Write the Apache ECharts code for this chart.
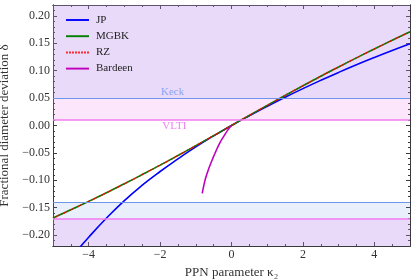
<!DOCTYPE html>
<html>
<head>
<meta charset="utf-8">
<script src="https://cdn.jsdelivr.net/npm/echarts@6/dist/echarts.min.js"></script>
<style>html,body{margin:0;padding:0;background:#fff;}#c{width:415px;height:280px;}</style>
</head>
<body>
<div id="c"></div>
<script>
// kappa_2 sample points
const kappa = [-5, -4.5, -4, -3.5, -3, -2.5, -2, -1.5, -1, -0.5, 0, 0.5, 1, 1.5, 2, 2.5, 3, 3.5, 4, 4.5, 5];
const mgbk = [-0.169, -0.1538, -0.1385, -0.1227, -0.1064, -0.0896, -0.0724, -0.0548, -0.0368, -0.0185, 0.0, 0.0185, 0.0368, 0.0548, 0.0725, 0.0899, 0.1069, 0.1235, 0.1397, 0.1555, 0.171];
const rz = [-0.169, -0.1538, -0.1385, -0.1227, -0.1064, -0.0896, -0.0724, -0.0548, -0.0368, -0.0185, 0.0, 0.0185, 0.0368, 0.0548, 0.0725, 0.0899, 0.1069, 0.1235, 0.1397, 0.1555, 0.171];
const jpKappa = [-4.4, -4, -3.5, -3, -2.5, -2, -1.5, -1, -0.5, 0, 0.5, 1, 1.5, 2, 2.5, 3, 3.5, 4, 4.5, 5];
const jp = [-0.234, -0.204, -0.169, -0.137, -0.109, -0.084, -0.061, -0.039, -0.019, 0.0, 0.0178, 0.035, 0.0515, 0.0673, 0.0824, 0.0969, 0.1108, 0.1241, 0.1369, 0.1492];
const bardeenKappa = [-0.82, -0.77, -0.72, -0.66, -0.61, -0.53, -0.45, -0.33, -0.2, -0.1, 0];
const bardeen = [-0.124, -0.108, -0.095, -0.083, -0.074, -0.061, -0.049, -0.032, -0.018, -0.008, 0.0];
const keck = [-0.14, 0.05];
const vlti = [-0.17, 0.01];
const xRange = [-5, 5];
const yRange = [-0.22, 0.22];

const serif = '"Liberation Serif", "DejaVu Serif", serif';
const frame = '#3a3a3a';
const pair = (xs, ys) => xs.map((x, i) => [x, ys[i]]);
const fmtY = v => (v < 0 ? '\u2212' : '') + Math.abs(v).toFixed(2);
const fmtX = v => (v < 0 ? '\u2212' : '') + Math.abs(v);

function xAx(pos, major, labels) {
  return {
    type: 'value', position: pos, min: xRange[0], max: xRange[1],
    interval: major ? undefined : 0.5, splitNumber: major ? 5 : undefined,
    axisLine: { show: true, onZero: false, lineStyle: { color: frame, width: 1 } },
    axisTick: { show: true, inside: true, length: major ? 4 : 2, lineStyle: { color: frame, width: 1 } },
    axisLabel: { show: labels, showMinLabel: false, showMaxLabel: false, formatter: fmtX, color: '#333', fontFamily: serif, fontSize: 12, margin: 3 },
    splitLine: { show: false },
    name: labels ? 'PPN parameter \u03ba\u2082' : '', nameLocation: 'middle', nameGap: 14,
    nameTextStyle: { color: '#333', fontFamily: serif, fontSize: 13 }
  };
}
function yAx(pos, major, labels) {
  return {
    type: 'value', position: pos, min: yRange[0], max: yRange[1],
    interval: major ? undefined : 0.01, splitNumber: major ? 9 : undefined,
    axisLine: { show: true, onZero: false, lineStyle: { color: frame, width: 1 } },
    axisTick: { show: true, inside: true, length: major ? 4 : 2, lineStyle: { color: frame, width: 1 } },
    axisLabel: { show: labels, showMinLabel: false, showMaxLabel: false, formatter: fmtY, color: '#333', fontFamily: serif, fontSize: 12, margin: 3 },
    splitLine: { show: false },
    name: labels ? 'Fractional diameter deviation \u03b4' : '', nameLocation: 'middle', nameGap: 37,
    nameTextStyle: { color: '#333', fontFamily: serif, fontSize: 13 }
  };
}

const solidIcon = 'path://M0,0h24v2h-24z';
let dots = '';
for (let i = 0; i < 8; i++) dots += 'M' + (i * 3) + ',0h1.6v2h-1.6z';
const dotIcon = 'path://' + dots;

const chart = echarts.init(document.getElementById('c'), null, { renderer: 'canvas' });
chart.setOption({
  animation: false,
  backgroundColor: '#fff',
  grid: { left: 53, right: 5, top: 5, bottom: 34, containLabel: false, outerBoundsMode: 'none' },
  xAxis: [xAx('bottom', true, true), xAx('bottom', false, false), xAx('top', true, false), xAx('top', false, false)],
  yAxis: [yAx('left', true, true), yAx('left', false, false), yAx('right', true, false), yAx('right', false, false)],
  legend: {
    data: [
      { name: 'JP', icon: solidIcon },
      { name: 'MGBK', icon: solidIcon },
      { name: 'RZ', icon: dotIcon },
      { name: 'Bardeen', icon: solidIcon }
    ],
    orient: 'vertical', left: 61, top: 9,
    itemWidth: 23, itemHeight: 2, itemGap: 4.2,
    textStyle: { color: '#222', fontFamily: serif, fontSize: 11, lineHeight: 12, padding: [0, 0, 0, 2] }
  },
  series: [
    { type: 'line', name: 'shade', data: [], silent: true,
      markArea: { silent: true, itemStyle: { color: 'rgba(100,149,237,0.14)' },
        data: [[{ yAxis: keck[1] }, { yAxis: yRange[1] }], [{ yAxis: yRange[0] }, { yAxis: keck[0] }]] } },
    { type: 'line', name: 'shade2', data: [], silent: true,
      markArea: { silent: true, itemStyle: { color: 'rgba(238,130,238,0.2)' },
        data: [[{ yAxis: vlti[1] }, { yAxis: yRange[1] }], [{ yAxis: yRange[0] }, { yAxis: vlti[0] }]] } },
    { type: 'line', name: 'keckLines', data: [], silent: true,
      markLine: { silent: true, symbol: 'none', label: { show: false }, lineStyle: { color: '#6d95ee', width: 1, type: 'solid' },
        data: keck.map(v => ({ yAxis: v })) } },
    { type: 'line', name: 'vltiLines', data: [], silent: true,
      markLine: { silent: true, symbol: 'none', label: { show: false }, lineStyle: { color: '#f07cf0', width: 1.5, type: 'solid' },
        data: vlti.map(v => ({ yAxis: v })) } },
    { type: 'scatter', name: 'keckLabel', data: [[-1.65, keck[1]]], symbolSize: 0, silent: true,
      label: { show: true, position: 'top', distance: 1, formatter: 'Keck', color: '#6d95ee', fontFamily: serif, fontSize: 11 } },
    { type: 'scatter', name: 'vltiLabel', data: [[-1.6, vlti[1]]], symbolSize: 0, silent: true,
      label: { show: true, position: 'bottom', distance: 1, formatter: 'VLTI', color: '#ee5cee', fontFamily: serif, fontSize: 11 } },
    { type: 'line', name: 'JP', data: pair(jpKappa, jp), smooth: true, showSymbol: false, symbol: 'none', clip: true,
      color: '#0000ff', lineStyle: { color: '#0000ff', width: 1.6 } },
    { type: 'line', name: 'MGBK', data: pair(kappa, mgbk), smooth: true, showSymbol: false, symbol: 'none',
      color: '#008000', lineStyle: { color: '#008000', width: 1.6 } },
    { type: 'line', name: 'RZ', data: pair(kappa, rz), smooth: true, showSymbol: false, symbol: 'none',
      color: '#ff0000', lineStyle: { color: '#ff0000', width: 1.4, type: [1.4, 1.6] } },
    { type: 'line', name: 'Bardeen', data: pair(bardeenKappa, bardeen), smooth: true, showSymbol: false, symbol: 'none',
      color: '#bf00bf', lineStyle: { color: '#bf00bf', width: 1.6 } }
  ]
});
</script>
</body>
</html>
